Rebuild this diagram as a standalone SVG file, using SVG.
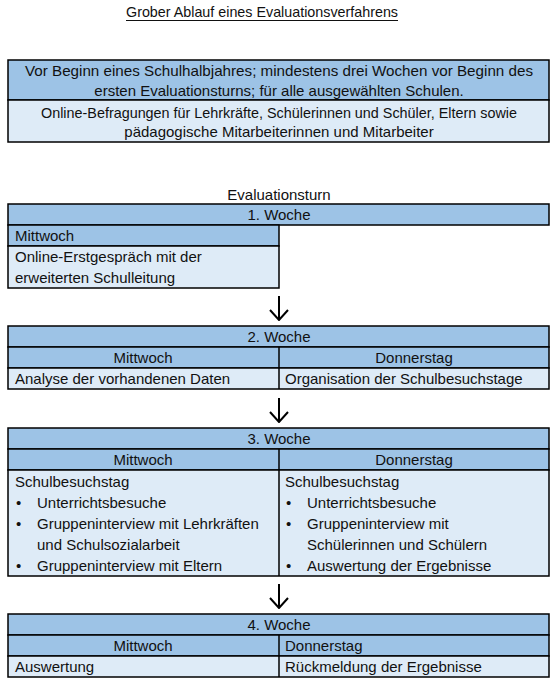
<svg xmlns="http://www.w3.org/2000/svg" width="557" height="682" viewBox="0 0 557 682">
<style>
text{font-family:"Liberation Sans",Arial,sans-serif;font-size:15px;fill:#111}
.c{text-anchor:middle}
.hd{fill:#9DC3E6;stroke:#000;stroke-width:1.5}
.bd{fill:#DEEBF7;stroke:#000;stroke-width:1.5}
.ln{stroke:#000;stroke-width:1.5;fill:none}
.ar{stroke:#000;stroke-width:2;fill:none}
</style>
<defs>
<marker id="ah" viewBox="0 0 12 20" refX="11" refY="10" markerWidth="12" markerHeight="20" markerUnits="userSpaceOnUse" orient="auto">
<path d="M1 1 L11 10 L1 19" stroke="#000" stroke-width="2" fill="none"/>
</marker>
</defs>
<rect width="557" height="682" fill="#fff"/>
<g id="title">
<text x="262" y="17" class="c" textLength="272" lengthAdjust="spacingAndGlyphs">Grober Ablauf eines Evaluationsverfahrens</text>
<line x1="126" y1="20.5" x2="398" y2="20.5" stroke="#111" stroke-width="1"/>
</g>
<g id="vorbereitung">
<rect x="8" y="60" width="541" height="40" class="hd"/>
<rect x="8" y="100" width="541" height="42" class="bd"/>
<text x="279" y="76" class="c" textLength="508" lengthAdjust="spacingAndGlyphs">Vor Beginn eines Schulhalbjahres; mindestens drei Wochen vor Beginn des</text>
<text x="279" y="96" class="c">ersten Evaluationsturns; für alle ausgewählten Schulen.</text>
<text x="279" y="118" class="c" textLength="476" lengthAdjust="spacingAndGlyphs">Online-Befragungen für Lehrkräfte, Schülerinnen und Schüler, Eltern sowie</text>
<text x="279" y="137" class="c">pädagogische Mitarbeiterinnen und Mitarbeiter</text>
</g>
<g id="evaluationsturn">
<text x="279" y="200" class="c">Evaluationsturn</text>
</g>
<g id="woche1">
<rect x="8" y="204" width="541" height="21" class="hd"/>
<text x="279" y="220" class="c">1. Woche</text>
<rect x="8" y="225" width="271" height="21" class="hd"/>
<text x="15" y="241">Mittwoch</text>
<rect x="8" y="246" width="271" height="42" class="bd"/>
<text x="15" y="262">Online-Erstgespräch mit der</text>
<text x="15" y="283">erweiterten Schulleitung</text>
</g>
<g id="woche2">
<rect x="8" y="326" width="541" height="21" class="hd"/>
<text x="279" y="342" class="c">2. Woche</text>
<rect x="8" y="347" width="541" height="21" class="hd"/>
<text x="143" y="363" class="c">Mittwoch</text>
<text x="414" y="363" class="c">Donnerstag</text>
<rect x="8" y="368" width="541" height="21" class="bd"/>
<line x1="279" y1="347" x2="279" y2="389" class="ln"/>
<text x="15" y="384">Analyse der vorhandenen Daten</text>
<text x="285" y="384">Organisation der Schulbesuchstage</text>
</g>
<g id="woche3">
<rect x="8" y="428" width="541" height="21" class="hd"/>
<text x="279" y="444" class="c">3. Woche</text>
<rect x="8" y="449" width="541" height="21" class="hd"/>
<text x="143" y="465" class="c">Mittwoch</text>
<text x="414" y="465" class="c">Donnerstag</text>
<rect x="8" y="470" width="541" height="106" class="bd"/>
<line x1="279" y1="449" x2="279" y2="576" class="ln"/>
<text x="15" y="487">Schulbesuchstag</text>
<text x="16" y="508">•</text><text x="37" y="508">Unterrichtsbesuche</text>
<text x="16" y="529">•</text><text x="37" y="529">Gruppeninterview mit Lehrkräften</text>
<text x="37" y="550">und Schulsozialarbeit</text>
<text x="16" y="571">•</text><text x="37" y="571">Gruppeninterview mit Eltern</text>
<text x="285" y="487">Schulbesuchstag</text>
<text x="286" y="508">•</text><text x="307" y="508">Unterrichtsbesuche</text>
<text x="286" y="529">•</text><text x="307" y="529">Gruppeninterview mit</text>
<text x="307" y="550">Schülerinnen und Schülern</text>
<text x="286" y="571">•</text><text x="307" y="571">Auswertung der Ergebnisse</text>
</g>
<g id="woche4">
<rect x="8" y="614" width="541" height="21" class="hd"/>
<text x="279" y="630" class="c">4. Woche</text>
<rect x="8" y="635" width="541" height="21" class="hd"/>
<text x="143" y="651" class="c">Mittwoch</text>
<text x="285" y="651">Donnerstag</text>
<rect x="8" y="656" width="541" height="21" class="bd"/>
<line x1="279" y1="635" x2="279" y2="677" class="ln"/>
<text x="15" y="672">Auswertung</text>
<text x="285" y="672">Rückmeldung der Ergebnisse</text>
</g>
<g id="connectors">
<line x1="279" y1="296" x2="279" y2="320" class="ar" marker-end="url(#ah)"/>
<line x1="279" y1="398" x2="279" y2="422" class="ar" marker-end="url(#ah)"/>
<line x1="279" y1="584" x2="279" y2="608" class="ar" marker-end="url(#ah)"/>
</g>
</svg>
